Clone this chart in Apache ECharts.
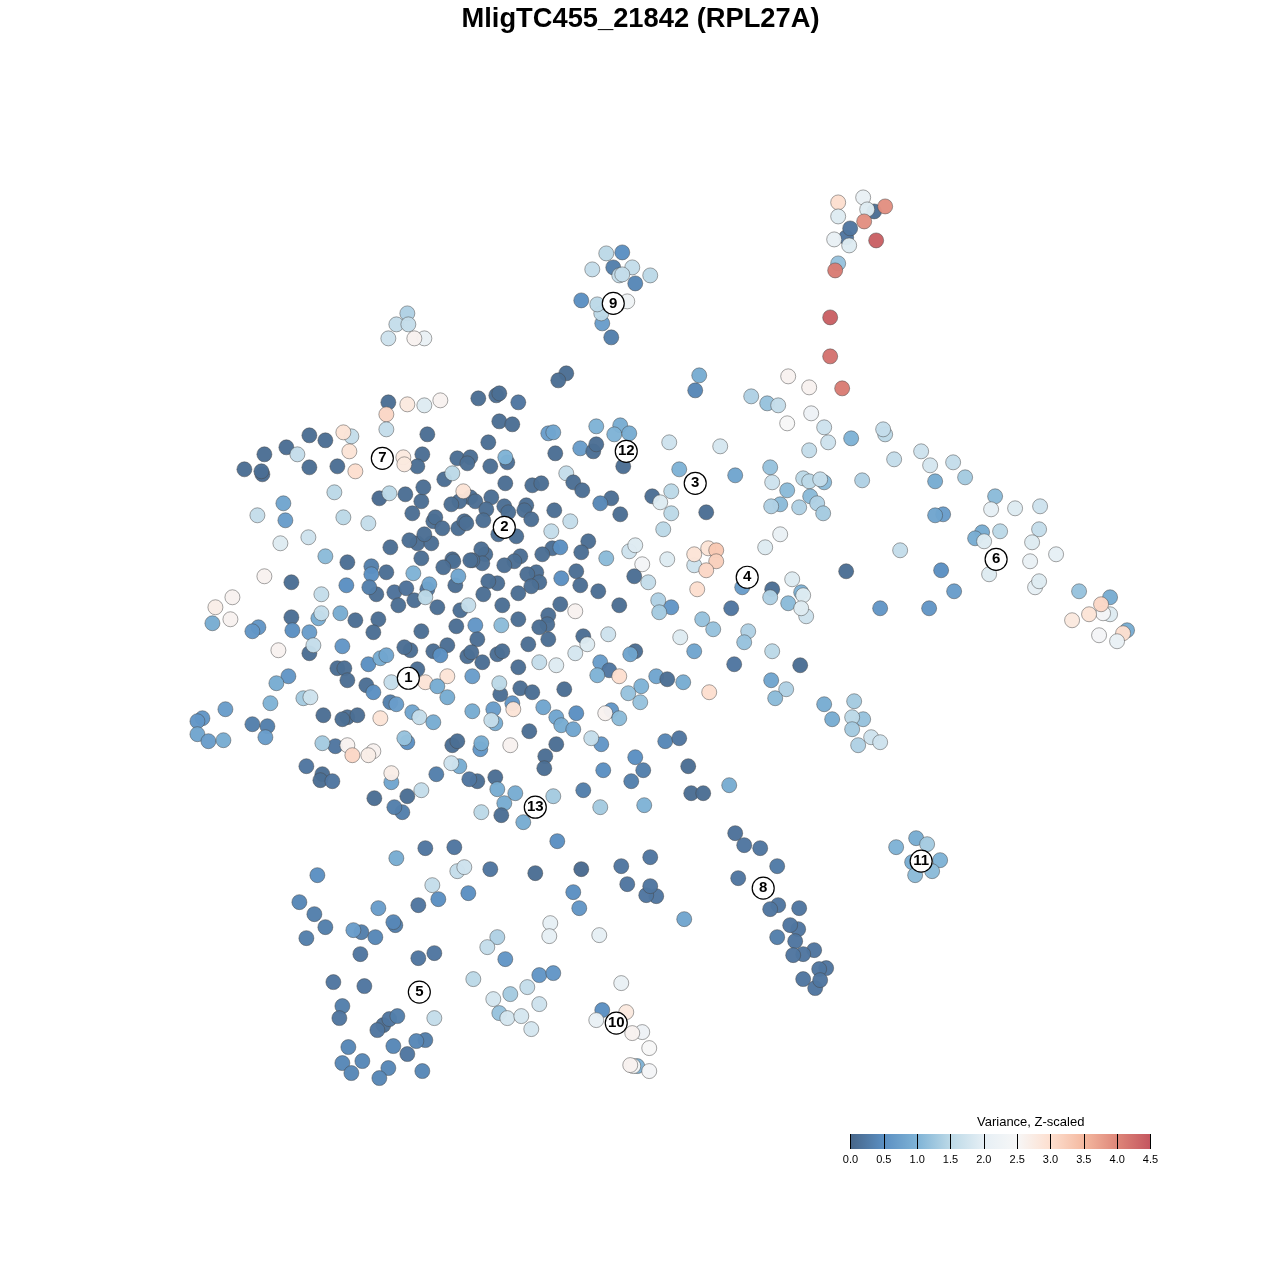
<!DOCTYPE html>
<html><head><meta charset="utf-8">
<style>html,body{margin:0;padding:0;background:#fff}#c{width:1280px;height:1280px}</style>
<script src="https://cdn.jsdelivr.net/npm/echarts@6/dist/echarts.min.js"></script>
</head><body><div id="c"></div>
<script>
const chartTitle = "MligTC455_21842 (RPL27A)";
const legendTitle = "Variance, Z-scaled";
const legendTicks = [0,0.5,1,1.5,2,2.5,3,3.5,4,4.5];
const legendColors = ["#476689","#5B8FC2","#7FB3D6","#BCD9E7","#E6EFF5","#F7F7F7","#FDDFCF","#F4B9A0","#DE8679","#C4565F"];

// each cell: [x, y, variance z-score]
const topCells = [[874,211,.1],[846,237,.2],[850,228,.2],[863,197,2.1],[838,202,3],[838,216,1.9],[867,209,1.9],[885,206,3.9],[864,221,3.9],[834,239,2.1],[849,245,1.9],[876,240,4.4],[838,263,1.2],[835,270,4.1],[830,317,4.4],[830,356,4.2],[842,388,4.1]];
const cluster9Cells = [[622,252,.5],[606,253,1.5],[613,267,.3],[592,269,1.6],[632,267,1.6],[619,275,1.6],[622,274,1.6],[650,275,1.5],[635,283,.4],[581,300,.5],[627,301,2.3],[602,323,.7],[601,313,1.5],[597,304,1.5],[611,337,.3]];
const topLeftCells = [[407,313,1.4],[396,324,1.6],[408,324,1.6],[388,338,1.7],[424,338,2.1],[414,338,2.6]];
const westCells = [[388,402,.1],[407,404,2.8],[424,405,1.9],[440,400,2.6],[386,414,3.1],[386,429,1.6],[427,434,.1],[309,435,.1],[325,440,.1],[351,436,1.6],[343,432,2.9],[286,447,.1],[297,454,1.6],[264,454,.1],[349,451,2.9],[244,469,.1],[262,474,.05],[261,471,.1],[309,467,.1],[337,466,.1],[355,471,3],[403,457,2.8],[422,454,.1],[417,466,.1],[404,464,2.8],[334,492,1.5],[283,503,.8],[285,520,.7],[257,515,1.6],[343,517,1.5],[368,523,1.6],[308,537,1.7],[280,543,1.9],[325,556,1.1],[347,562,.1],[379,498,.05],[389,493,1.5],[405,494,.1],[421,501,.1],[423,487,.1],[412,513,.1],[433,521,.1],[435,517,.1],[442,528,.1],[417,543,.1],[409,540,.1],[431,543,.1],[424,534,.1],[390,547,.1],[421,558,.1],[371,566,.3],[371,574,.5],[386,572,.1],[413,573,1],[264,576,2.6],[291,582,.1],[346,585,.5],[321,594,1.6],[376,594,.1],[369,587,.3],[394,592,.15],[406,588,.15],[427,589,.2],[429,584,.8],[414,600,.1],[425,597,1.5],[398,605,.1],[437,607,.1],[215,607,2.7],[232,597,2.6],[230,619,2.6],[212,623,.9],[258,627,.6],[252,631,.6],[291,617,.1],[292,630,.5],[318,618,.9],[321,613,1.6],[340,613,.9],[309,632,.7],[355,620,.1],[378,619,.1],[373,632,.1],[421,631,.1],[278,650,2.6],[309,653,.1],[313,645,1.6],[342,646,.6],[410,650,.1],[404,647,.1],[447,645,.1],[433,651,.1],[440,655,.5],[368,664,.5],[380,658,.9],[386,655,.8]];
const centerTopCells = [[566,373,.1],[558,380,.1],[478,398,.1],[496,395,.1],[499,393,.1],[518,402,.2],[499,421,.1],[512,424,.1],[488,442,.1],[548,433,.7],[553,432,.8],[596,426,1],[620,425,.9],[614,434,1],[629,433,.9],[580,448,.7],[593,451,.1],[596,444,.1],[555,453,.1],[623,466,.1],[457,458,.1],[470,457,.1],[467,463,.1],[490,466,.1],[507,462,.1],[505,457,1],[444,479,.1],[452,473,1.5],[505,483,.1],[532,485,.1],[541,483,.1],[566,473,1.6],[573,482,.1],[582,490,.1],[491,497,.1],[470,497,.1],[475,501,.1],[459,501,.1],[451,504,.1],[463,491,2.9],[504,506,.1],[508,512,.1],[486,509,.1],[483,520,.1],[526,505,.1],[524,510,.1],[531,519,.1],[554,510,.1],[611,498,.1],[600,503,.4],[620,514,.1],[458,528,.1],[464,521,.1],[466,523,.1],[570,521,1.6],[551,531,1.6],[498,534,.1],[516,536,.1],[588,541,.1],[581,552,.1],[552,548,.1],[560,547,.5],[542,554,.1],[485,554,.1],[481,549,.1],[482,563,.1],[472,560,.1],[520,556,.1],[514,561,.1],[504,565,.1],[452,559,.1],[453,561,.1],[443,567,.1],[470,560,.1],[606,558,1.1]];
const centerMidCells = [[576,571,.1],[561,578,.5],[580,585,.1],[598,591,.1],[536,572,.1],[527,574,.1],[539,582,.1],[531,586,.1],[518,593,.1],[497,583,.1],[488,581,.1],[483,594,.1],[455,585,.1],[458,576,.8],[560,604,.1],[548,615,.1],[547,624,.1],[539,627,.1],[548,639,.1],[619,605,.1],[575,611,2.6],[502,605,.1],[460,610,.1],[468,605,1.6],[518,619,.1],[475,625,.6],[501,625,1.1],[456,626,.1],[477,639,.1],[528,644,.1],[608,634,1.7],[583,636,.1],[587,644,1.9],[575,653,1.8],[635,651,.1],[630,654,.8],[539,662,1.6],[467,656,.1],[471,652,.1],[482,662,.1],[497,654,.1],[502,651,.1],[518,667,.1],[556,665,1.9],[600,662,.7],[609,670,.2],[597,675,1],[619,676,3],[656,676,.8],[667,679,.1],[683,682,.9],[641,686,1],[628,693,1.2],[640,702,1.2],[564,689,.1],[417,669,.1],[425,682,2.9],[447,676,2.9],[472,676,.7],[437,686,.9],[447,697,.9],[500,694,.1],[499,683,1.5],[520,688,.1],[532,692,.1],[512,703,.6],[513,709,2.9],[493,709,.7],[472,711,.9],[543,707,.8],[576,713,.5]];
const southWestCells = [[337,668,.1],[344,668,.1],[347,680,.1],[288,676,.6],[276,683,.9],[366,685,.1],[373,692,.5],[391,682,1.6],[270,703,1],[303,698,1.3],[310,697,1.7],[390,702,.3],[396,704,.7],[225,709,.7],[202,718,.6],[197,721,.6],[197,734,.8],[208,741,.7],[223,740,.9],[252,724,.3],[267,726,.3],[265,737,.7],[323,715,.1],[347,717,.1],[342,719,.1],[357,715,.1],[380,718,2.9],[412,712,.8],[419,717,1.6],[433,722,.9],[335,746,.2],[322,743,1.3],[373,751,2.6],[347,745,2.6],[352,755,3.1],[368,755,2.7],[306,766,.2],[322,774,.1],[320,780,.1],[332,781,.2],[391,782,.8],[391,773,2.7],[374,798,.1],[407,796,.1],[402,812,.3],[394,807,.3],[421,790,1.6],[407,742,.5],[404,738,1.2]];
const southCenterCells = [[556,717,.8],[561,725,.9],[573,729,.8],[529,731,.1],[495,723,.9],[491,720,1.6],[611,710,.6],[605,713,2.6],[619,718,1.1],[601,744,.6],[591,738,1.6],[665,741,.4],[679,738,.2],[452,745,.1],[457,741,.1],[480,749,.6],[481,743,.9],[510,745,2.6],[556,744,.1],[545,756,.1],[544,768,.1],[635,757,.5],[603,770,.5],[643,770,.3],[631,781,.3],[459,766,.9],[451,763,1.7],[436,774,.3],[477,781,.1],[469,779,.2],[495,777,.1],[497,789,.9],[515,793,.9],[583,790,.3],[553,796,1.3],[504,803,.9],[481,812,1.5],[501,815,.1],[523,822,.9],[600,807,1.3],[644,805,1],[557,841,.5]];
const eastCells = [[699,375,.9],[695,390,.4],[788,376,2.6],[809,387,2.6],[751,396,1.4],[767,403,1.2],[778,405,1.6],[811,413,2.2],[787,423,2.5],[824,427,1.7],[828,442,1.7],[809,450,1.6],[851,438,1],[669,442,1.7],[720,446,1.8],[679,469,1],[735,475,.8],[770,467,1.2],[772,482,1.7],[787,490,1.1],[824,482,1.1],[803,478,1.5],[809,481,1.5],[820,479,1.6],[862,480,1.4],[652,496,.1],[671,491,1.5],[660,502,1.9],[706,512,.1],[671,513,1.5],[780,504,1.1],[771,506,1.4],[799,507,1.4],[810,496,1.1],[817,503,1.4],[823,513,1.3],[663,529,1.5],[780,534,2.1],[765,547,1.9],[900,550,1.6],[629,551,1.7],[635,545,1.9],[667,559,1.9],[642,564,2.4],[694,565,1.7],[694,554,2.9],[708,548,2.9],[716,550,3.3],[716,561,3.2],[706,570,3.1],[697,589,3],[634,576,.1],[648,582,1.6],[742,587,.7],[772,589,.1],[770,597,1.4],[792,579,1.9],[801,592,1],[803,595,1.9],[788,603,1.1],[806,616,1.7],[801,608,1.9],[846,571,.1],[731,608,.2],[671,607,.6],[658,600,1.4],[659,612,1.3],[702,619,1.2],[713,629,1.2],[680,637,1.9],[748,631,1.4],[744,642,1.2],[694,651,.8],[772,651,1.5],[734,664,.2],[800,665,.1],[771,680,.8],[786,689,1.4],[775,698,1.1],[709,692,3],[824,704,.9],[854,701,1.3],[832,719,.9],[863,719,1.2],[852,717,1.5],[852,729,1.3],[871,737,1.7],[880,742,1.7],[858,745,1.4],[688,766,.1],[691,793,.1],[703,793,.1],[729,785,.9]];
const farEastCells = [[885,434,1.5],[883,429,1.6],[894,459,1.6],[921,451,1.7],[930,465,1.8],[953,462,1.6],[965,477,1.3],[935,481,.9],[995,496,1.1],[991,509,2],[1015,508,1.9],[1040,506,1.7],[943,514,.7],[935,515,.8],[1000,531,1.5],[1039,529,1.6],[982,532,.9],[975,538,.9],[984,541,1.9],[1032,542,1.9],[1056,554,2],[1030,561,2.1],[941,570,.5],[989,574,1.9],[1035,587,2],[1039,581,1.9],[954,591,.7],[929,608,.6],[880,608,.6],[1079,591,1.2],[1110,597,.9],[1110,614,1.9],[1103,613,2.4],[1089,614,2.9],[1101,604,3.1],[1072,620,2.8],[1127,630,.9],[1123,633,3],[1099,635,2.4],[1117,641,2.1]];
const cluster11Cells = [[916,838,.9],[927,844,1.3],[896,847,1],[912,862,.9],[940,860,1],[915,875,1.1],[932,871,1.1]];
const cluster8Cells = [[735,833,.15],[744,845,.2],[760,848,.2],[777,866,.25],[738,878,.2],[778,905,.2],[770,909,.2],[799,908,.2],[798,929,.2],[790,925,.2],[777,937,.3],[795,941,.2],[814,950,.2],[803,954,.2],[793,955,.2],[826,968,.2],[819,969,.2],[803,979,.2],[815,988,.2],[820,980,.2],[581,869,.05],[621,866,.2],[650,857,.2],[627,884,.2],[656,896,.2],[646,895,.2],[650,886,.2],[573,892,.5],[579,908,.6],[684,919,.8],[599,935,2]];
const cluster5Cells = [[396,858,.9],[425,848,.2],[454,847,.2],[490,869,.2],[535,873,.1],[457,871,1.6],[464,867,1.7],[317,875,.5],[432,885,1.6],[468,893,.5],[438,899,.5],[418,905,.2],[299,902,.4],[314,914,.3],[325,927,.3],[306,938,.3],[378,908,.7],[395,925,.3],[393,922,.4],[361,932,.3],[353,930,.7],[375,937,.4],[360,954,.2],[418,958,.2],[434,953,.2],[497,937,1.4],[487,947,1.6],[505,959,.6],[550,923,2],[549,936,2],[473,979,1.5],[539,975,.6],[553,973,.6],[527,987,1.6],[510,994,1.3],[493,999,1.8],[539,1004,1.7],[499,1013,1.2],[507,1018,1.8],[521,1016,1.8],[531,1029,1.8],[333,982,.2],[364,986,.2],[342,1006,.3],[339,1018,.2],[434,1018,1.6],[383,1025,.1],[389,1019,.2],[397,1016,.3],[377,1030,.2],[425,1040,.3],[416,1041,.4],[393,1046,.4],[407,1054,.2],[348,1047,.4],[342,1063,.4],[362,1061,.4],[351,1073,.4],[388,1068,.4],[379,1078,.4],[422,1071,.4]];
const cluster10Cells = [[621,983,2.1],[602,1010,.5],[626,1012,2.8],[596,1020,2.1],[642,1032,2.2],[632,1033,2.6],[649,1048,2.5],[637,1066,1],[633,1066,2.5],[630,1065,2.6],[649,1071,2.4]];

const clusterLabels = [["1",408,678],["2",504,527],["3",695,483],["4",747,577],["5",419,992],["6",996,559],["7",382,458],["8",763,888],["9",613,303],["10",616,1023],["11",921,861],["12",626,451],["13",535,807]];

const cells = [].concat(topCells, cluster9Cells, topLeftCells, westCells, centerTopCells, centerMidCells, southWestCells, southCenterCells, eastCells, farEastCells, cluster11Cells, cluster8Cells, cluster5Cells, cluster10Cells);

const font = '"Liberation Sans", Arial, sans-serif';
const chart = echarts.init(document.getElementById('c'), null, {renderer:'canvas'});
chart.setOption({
  animation:false,
  backgroundColor:'#ffffff',
  title:[
    {text:chartTitle,left:635.5,top:1,textAlign:'center',textStyle:{fontFamily:font,fontWeight:'bold',fontSize:27.3,color:'#000'}},
    {text:legendTitle,left:972,top:1111,textStyle:{fontFamily:font,fontWeight:'normal',fontSize:13,color:'#000'}}
  ],
  grid:[
    {left:0.5,top:0.5,width:1280,height:1280,show:false},
    {left:850.5,top:1134,width:300,height:15,show:false}
  ],
  xAxis:[
    {gridIndex:0,type:'value',min:0,max:1280,show:false},
    {gridIndex:1,type:'value',min:0,max:4.5,interval:0.5,position:'bottom',z:5,
      axisLine:{show:false},splitLine:{show:false},
      axisTick:{show:true,inside:true,length:15,lineStyle:{color:'#000',width:1}},
      axisLabel:{show:true,margin:5,fontFamily:font,fontSize:11,color:'#000',formatter:v=>v.toFixed(1),showMinLabel:true,showMaxLabel:true}}
  ],
  yAxis:[
    {gridIndex:0,type:'value',min:0,max:1280,inverse:true,show:false},
    {gridIndex:1,type:'value',min:0,max:1,show:false}
  ],
  visualMap:{show:false,seriesIndex:0,dimension:2,min:0,max:4.5,inRange:{color:legendColors}},
  series:[
    {type:'scatter',xAxisIndex:0,yAxisIndex:0,data:cells,symbolSize:15,z:2,
      itemStyle:{opacity:0.97,borderColor:'rgba(70,70,70,0.5)',borderWidth:1},silent:true},
    {type:'scatter',xAxisIndex:0,yAxisIndex:0,z:3,symbolSize:22,silent:true,
      data:clusterLabels.map(d=>({value:[d[1],d[2]],name:d[0]})),
      itemStyle:{color:'#fff',borderColor:'#000',borderWidth:1.2,opacity:1},
      label:{show:true,position:'inside',formatter:'{b}',fontFamily:font,fontWeight:'bold',fontSize:15,color:'#000'}},
    {type:'custom',xAxisIndex:1,yAxisIndex:1,z:1,silent:true,data:[[0,0,legendTicks[legendTicks.length-1],1]],
      encode:{x:[0,2],y:[1,3]},
      renderItem:(p,api)=>{
        const a=api.coord([api.value(0),api.value(3)]), b=api.coord([api.value(2),api.value(1)]);
        return {type:'rect',shape:{x:a[0],y:a[1],width:b[0]-a[0],height:b[1]-a[1]},
          style:{fill:new echarts.graphic.LinearGradient(0,0,1,0,legendColors.map((c,i)=>({offset:i/(legendColors.length-1),color:c})))}};
      }}
  ]
});
</script></body></html>
